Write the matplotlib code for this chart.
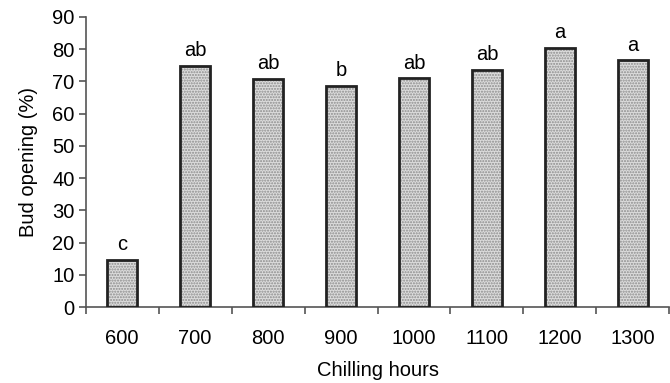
import numpy as np
import matplotlib.pyplot as plt

plt.rcParams['font.family'] = ['Liberation Sans', 'DejaVu Sans']

hours = ['600', '700', '800', '900', '1000', '1100', '1200', '1300']
opening = [14.7, 74.8, 70.8, 68.6, 71.0, 73.6, 80.4, 76.5]
letters = ['c', 'ab', 'ab', 'b', 'ab', 'ab', 'a', 'a']

fig = plt.figure(figsize=(6.7, 3.83), dpi=100)
ax = fig.add_axes([0.128, 0.198, 0.871, 0.758])

x = np.arange(len(hours))
# dotted fill, then the dark outline on top
ax.bar(x, opening, width=0.41, color='#dcdcdc', edgecolor='#8c8c8c',
       hatch='......', linewidth=0, zorder=2)
ax.bar(x, opening, width=0.41, color='none', edgecolor='#222222',
       linewidth=2, zorder=3)

for xi, v, t in zip(x, opening, letters):
    ax.annotate(t, (xi, v), xytext=(0, 4), textcoords='offset points',
                ha='center', va='bottom', fontsize=14.5)

ax.set_xlim(-0.5, len(hours) - 0.5)
ax.set_ylim(0, 90)
ax.set_yticks(np.arange(0, 91, 10))
ax.set_xticks(x)
ax.set_xticklabels(hours)
ax.set_xticks(np.arange(-0.5, len(hours)), minor=True)

for s in ['top', 'right']:
    ax.spines[s].set_visible(False)
for s in ['left', 'bottom']:
    ax.spines[s].set_color('#555555')
    ax.spines[s].set_linewidth(1.2)

ax.tick_params(axis='y', length=5, width=1.2, color='#555555', labelsize=14.5, pad=3)
ax.tick_params(axis='x', which='major', length=0, labelsize=14.5, pad=16)
ax.tick_params(axis='x', which='minor', length=5, width=1.2, color='#555555')

ax.set_xlabel('Chilling hours', fontsize=14.5, labelpad=9)
ax.set_ylabel('Bud opening (%)', fontsize=14.5, labelpad=10)

fig.savefig('out.png', dpi=100)
